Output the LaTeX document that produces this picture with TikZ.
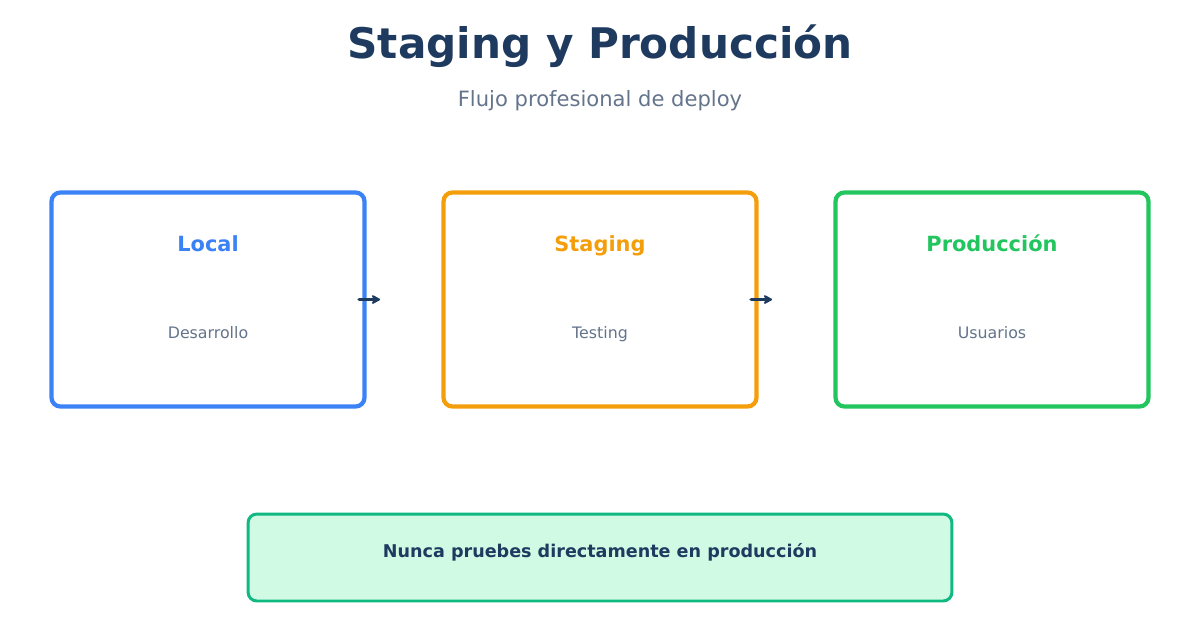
\documentclass[tikz,border=0pt]{standalone}
\usepackage{fontspec}
\setmainfont{DejaVu Sans}
\usepackage{tikz}
\usetikzlibrary{arrows.meta,positioning,calc}
\definecolor{navy}{HTML}{1E3A5F}
\definecolor{slate}{HTML}{64748B}
\definecolor{bluebox}{HTML}{3B82F6}
\definecolor{orangebox}{HTML}{F59E0B}
\definecolor{greenbox}{HTML}{22C55E}
\definecolor{notefill}{HTML}{D1FAE5}
\definecolor{notedraw}{HTML}{10B981}
\tikzset{
  envbox/.style={draw,line width=2.4pt,rounded corners=5pt,minimum width=6.26cm,minimum height=4.28cm,fill=white},
  envname/.style={anchor=base,font=\fontsize{11.9}{14}\selectfont\bfseries},
  envsub/.style={anchor=base,font=\fontsize{9}{11}\selectfont,text=slate},
  flow/.style={-{Stealth[length=6pt,width=6.5pt,round]},line width=1.9pt,line cap=round,draw=navy}
}
\begin{document}
\begin{tikzpicture}[x=0.02cm,y=-0.02cm]
\useasboundingbox (0,0) rectangle (1200,630);
\node[anchor=base,font=\fontsize{24}{28}\selectfont\bfseries,text=navy] (title) at (600,58) {Staging y Producción};
\node[anchor=base,font=\fontsize{12}{14}\selectfont,text=slate] (subtitle) at (600,106) {Flujo profesional de deploy};
% environments
\node[envbox,draw=bluebox] (local) at (208,299.5) {};
\node[envbox,draw=orangebox] (staging) at (600,299.5) {};
\node[envbox,draw=greenbox] (prod) at (992,299.5) {};
\node[envname,text=bluebox] (localname) at (208,251) {Local};
\node[envname,text=orangebox] (stagingname) at (600,251) {Staging};
\node[envname,text=greenbox] (prodname) at (992,251) {Producción};
\node[envsub] (localsub) at (208,338.5) {Desarrollo};
\node[envsub] (stagingsub) at (600,338.5) {Testing};
\node[envsub] (prodsub) at (992,338.5) {Usuarios};
% arrows
\coordinate (a1) at ([xshift=0.27cm]local.east);
\coordinate (a2) at ([xshift=0.27cm]staging.east);
\draw[flow] ([xshift=-0.15cm]local.east) -- (a1);
\draw[flow] ([xshift=-0.15cm]staging.east) -- (a2);
% note
\node[draw=notedraw,fill=notefill,line width=1.7pt,rounded corners=5pt,minimum width=14.08cm,minimum height=1.74cm] (note) at (600,557.5) {};
\node[anchor=base,font=\fontsize{10}{12}\selectfont\bfseries,text=navy] (notetext) at (600,557.5) {Nunca pruebes directamente en producción};
\end{tikzpicture}
\end{document}
